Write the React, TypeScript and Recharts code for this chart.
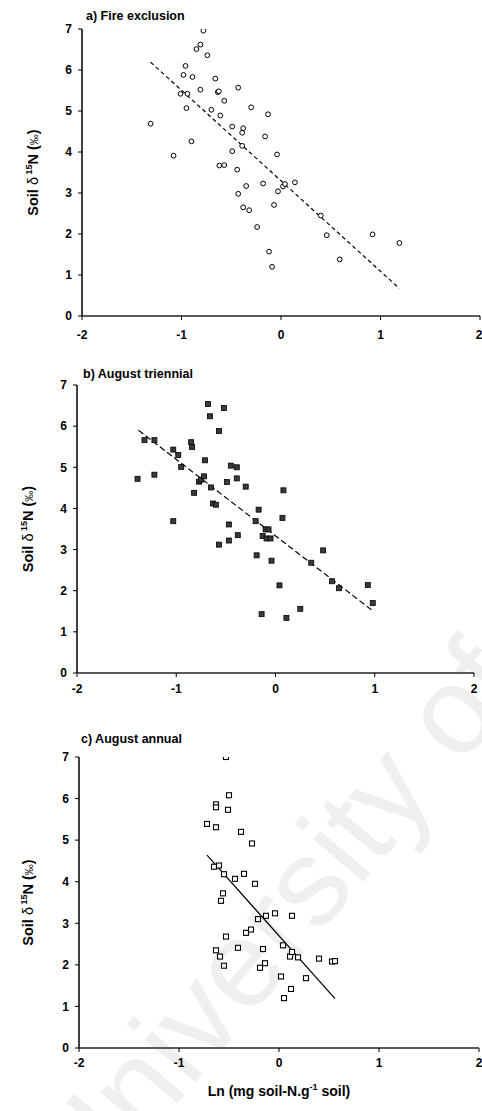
import React from "react"
import { ScatterChart, Scatter, XAxis, YAxis, ReferenceLine } from "recharts"

const FONT = "'Liberation Sans', Arial, Helvetica, sans-serif"

const xTicks = [-2, -1, 0, 1, 2]
const yTicks = [0, 1, 2, 3, 4, 5, 6, 7]

// ln soil N vs soil d15N, one [x, y] pair per plot
const fireExclusion = [
  [-1.31, 4.69], [-1.08, 3.91], [-1.01, 5.42], [-0.98, 5.88], [-0.96, 6.1],
  [-0.95, 5.07], [-0.94, 5.42], [-0.9, 4.26], [-0.89, 5.83], [-0.85, 6.51],
  [-0.81, 6.62], [-0.78, 6.96], [-0.81, 5.52], [-0.74, 6.36], [-0.7, 5.03],
  [-0.66, 5.79], [-0.635, 5.46], [-0.625, 5.48], [-0.62, 3.67], [-0.57, 5.25],
  [-0.61, 4.89], [-0.57, 3.68], [-0.49, 4.62], [-0.49, 4.02], [-0.44, 3.57],
  [-0.43, 2.98], [-0.43, 5.57], [-0.39, 4.47], [-0.38, 4.58], [-0.39, 4.15],
  [-0.38, 2.65], [-0.35, 3.17], [-0.32, 2.58], [-0.3, 5.09], [-0.24, 2.17],
  [-0.18, 3.23], [-0.16, 4.38], [-0.13, 4.92], [-0.12, 1.57], [-0.09, 1.2],
  [-0.07, 2.71], [-0.04, 3.94], [-0.03, 3.04], [0.02, 3.16], [0.04, 3.22],
  [0.14, 3.26], [0.4, 2.45], [0.46, 1.97], [0.59, 1.38], [0.92, 1.99],
  [1.19, 1.78],
]
const fireTrend = [[-1.31, 6.19], [1.19, 0.67]]

const augustTriennial = [
  [-1.39, 4.72], [-1.32, 5.66], [-1.22, 5.66], [-1.22, 4.82], [-1.03, 5.43],
  [-0.98, 5.3], [-1.03, 3.69], [-0.95, 5.01], [-0.85, 5.61], [-0.84, 5.49],
  [-0.82, 4.38], [-0.77, 4.65], [-0.75, 4.7], [-0.72, 4.78], [-0.71, 5.17],
  [-0.68, 6.54], [-0.66, 6.24], [-0.65, 4.51], [-0.63, 4.12], [-0.6, 4.09],
  [-0.57, 5.88], [-0.57, 3.12], [-0.52, 6.44], [-0.49, 4.64], [-0.47, 3.61],
  [-0.47, 3.22], [-0.45, 5.04], [-0.39, 5.0], [-0.39, 4.73], [-0.38, 3.35],
  [-0.3, 4.53], [-0.2, 3.69], [-0.19, 2.86], [-0.17, 3.97], [-0.14, 1.43],
  [-0.13, 3.33], [-0.1, 3.49], [-0.07, 3.49], [-0.09, 3.27], [-0.05, 3.27],
  [-0.04, 2.73], [0.04, 2.13], [0.07, 3.77], [0.08, 4.44], [0.11, 1.34],
  [0.25, 1.56], [0.36, 2.68], [0.48, 2.98], [0.57, 2.23], [0.64, 2.06],
  [0.93, 2.14], [0.98, 1.7],
]
const triennialTrend = [[-1.38, 5.9], [0.98, 1.51]]

const augustAnnual = [
  [-0.53, 7.0], [-0.5, 6.08], [-0.51, 5.73], [-0.63, 5.86], [-0.63, 5.79],
  [-0.72, 5.39], [-0.63, 5.31], [-0.38, 5.2], [-0.27, 4.92], [-0.65, 4.36],
  [-0.6, 4.39], [-0.55, 4.18], [-0.44, 4.07], [-0.35, 4.19], [-0.24, 3.95],
  [-0.56, 3.72], [-0.58, 3.54], [-0.21, 3.1], [-0.13, 3.18], [-0.04, 3.24],
  [0.13, 3.18], [-0.33, 2.77], [-0.28, 2.85], [-0.53, 2.68], [-0.63, 2.35],
  [-0.41, 2.41], [-0.16, 2.38], [-0.59, 2.2], [-0.55, 1.98], [-0.14, 2.04],
  [-0.19, 1.93], [0.04, 2.47], [0.11, 2.2], [0.13, 2.31], [0.19, 2.18],
  [0.4, 2.15], [0.53, 2.08], [0.56, 2.09], [0.02, 1.72], [0.27, 1.68],
  [0.12, 1.42], [0.05, 1.2],
]
const annualTrend = [[-0.72, 4.64], [0.56, 1.19]]

const toPoints = (rows: number[][]) => rows.map(([x, y]) => ({ x, y }))

const OpenCircle = (p: any) => (
  <circle cx={p.cx} cy={p.cy} r={2.4} fill="#fff" stroke="#000" strokeWidth={1} />
)
const DarkSquare = (p: any) => (
  <rect x={p.cx - 2.5} y={p.cy - 2.5} width={5} height={5} fill="#3a3a3a" stroke="#000" strokeWidth={0.8} />
)
const OpenSquare = (p: any) => (
  <rect x={p.cx - 2.5} y={p.cy - 2.5} width={5} height={5} fill="#fff" stroke="#000" strokeWidth={1.1} />
)

const tickStyle = { fontSize: 12, fontWeight: "bold", fill: "#000", fontFamily: FONT }

function YTitle({ viewBox, baseX }: any) {
  const cy = viewBox.y + viewBox.height / 2
  return (
    <text
      transform={`translate(${baseX},${cy}) rotate(-90)`}
      textAnchor="middle"
      fontFamily={FONT}
      fontSize={14.5}
      fontWeight="bold"
      fill="#000"
    >
      Soil <tspan fontWeight="normal">δ</tspan>
      <tspan dy={-6} fontSize={9}> 15</tspan>
      <tspan dy={6}>N (</tspan>
      <tspan fontSize={11} fontWeight="normal">‰</tspan>
      <tspan>)</tspan>
    </text>
  )
}

function XTitle({ viewBox }: any) {
  const cx = viewBox.x + viewBox.width / 2
  return (
    <text x={cx} y={viewBox.y + 48} textAnchor="middle" fontFamily={FONT} fontSize={14} fontWeight="bold" fill="#000">
      Ln (mg soil-N.g<tspan dy={-6} fontSize={9}>-1</tspan>
      <tspan dy={6}> soil)</tspan>
    </text>
  )
}

interface PanelProps {
  title: string
  data: number[][]
  trend: number[][]
  dash?: string
  marker: (p: any) => React.ReactElement
  top: number
  height: number
  margin: { top: number; right: number; bottom: number; left: number }
  titleTop: number
  titleLeft: number
  yTitleX: number
  tickMargin: number
  xAxisHeight: number
  showXTitle?: boolean
}

function Panel(props: PanelProps) {
  return (
    <div style={{ position: "absolute", left: 0, top: props.top, width: 482, height: props.height }}>
      <div
        style={{
          position: "absolute",
          left: props.titleLeft,
          top: props.titleTop,
          fontFamily: FONT,
          fontWeight: "bold",
          fontSize: 12.5,
          lineHeight: "14px",
          whiteSpace: "nowrap",
        }}
      >
        {props.title}
      </div>
      <ScatterChart width={482} height={props.height} margin={props.margin}>
        <XAxis
          type="number"
          dataKey="x"
          domain={[-2, 2]}
          ticks={xTicks}
          allowDataOverflow
          axisLine={{ stroke: "#5a5a5a", strokeWidth: 2 }}
          tickLine={{ stroke: "#000", strokeWidth: 1 }}
          tickSize={4}
          tickMargin={props.tickMargin}
          tick={tickStyle}
          height={props.xAxisHeight}
          label={props.showXTitle ? { content: (p: any) => <XTitle {...p} /> } : undefined}
        />
        <YAxis
          type="number"
          dataKey="y"
          domain={[0, 7]}
          ticks={yTicks}
          allowDataOverflow
          axisLine={{ stroke: "#111", strokeWidth: 1.6 }}
          tickLine={{ stroke: "#000", strokeWidth: 1 }}
          tickSize={4}
          tickMargin={6}
          tick={tickStyle}
          width={60}
          label={{ content: (p: any) => <YTitle {...p} baseX={props.yTitleX} /> }}
        />
        <ReferenceLine
          segment={toPoints(props.trend)}
          stroke="#000"
          strokeWidth={1.2}
          strokeDasharray={props.dash}
        />
        <Scatter data={toPoints(props.data)} shape={props.marker} isAnimationActive={false} />
      </ScatterChart>
    </div>
  )
}

export default function App() {
  return (
    <div style={{ position: "absolute", left: 0, top: 0, width: 482, height: 1111, background: "#fff", overflow: "hidden" }}>
      <svg width={482} height={1111} style={{ position: "absolute", left: 0, top: 0 }}>
        <text
          transform="translate(88,1210) rotate(-50)"
          fontFamily={FONT}
          fontSize={124}
          fill="#efefef"
        >
          University of C
        </text>
      </svg>
      <Panel
        title="a) Fire exclusion"
        data={fireExclusion}
        trend={fireTrend}
        dash="4 3"
        marker={OpenCircle}
        top={0}
        height={350}
        margin={{ top: 29, right: 2, bottom: 4, left: 22 }}
        titleTop={9}
        titleLeft={86}
        yTitleX={38}
        tickMargin={10}
        xAxisHeight={30}
      />
      <Panel
        title="b) August triennial"
        data={augustTriennial}
        trend={triennialTrend}
        dash="6 3"
        marker={DarkSquare}
        top={350}
        height={360}
        margin={{ top: 35, right: 8, bottom: 7, left: 17 }}
        titleTop={17}
        titleLeft={83}
        yTitleX={33}
        tickMargin={7}
        xAxisHeight={30}
      />
      <Panel
        title="c) August annual"
        data={augustAnnual}
        trend={annualTrend}
        marker={OpenSquare}
        top={710}
        height={401}
        margin={{ top: 47, right: 3, bottom: 8, left: 19 }}
        titleTop={22}
        titleLeft={81}
        yTitleX={33}
        tickMargin={6}
        xAxisHeight={55}
        showXTitle
      />
    </div>
  )
}
